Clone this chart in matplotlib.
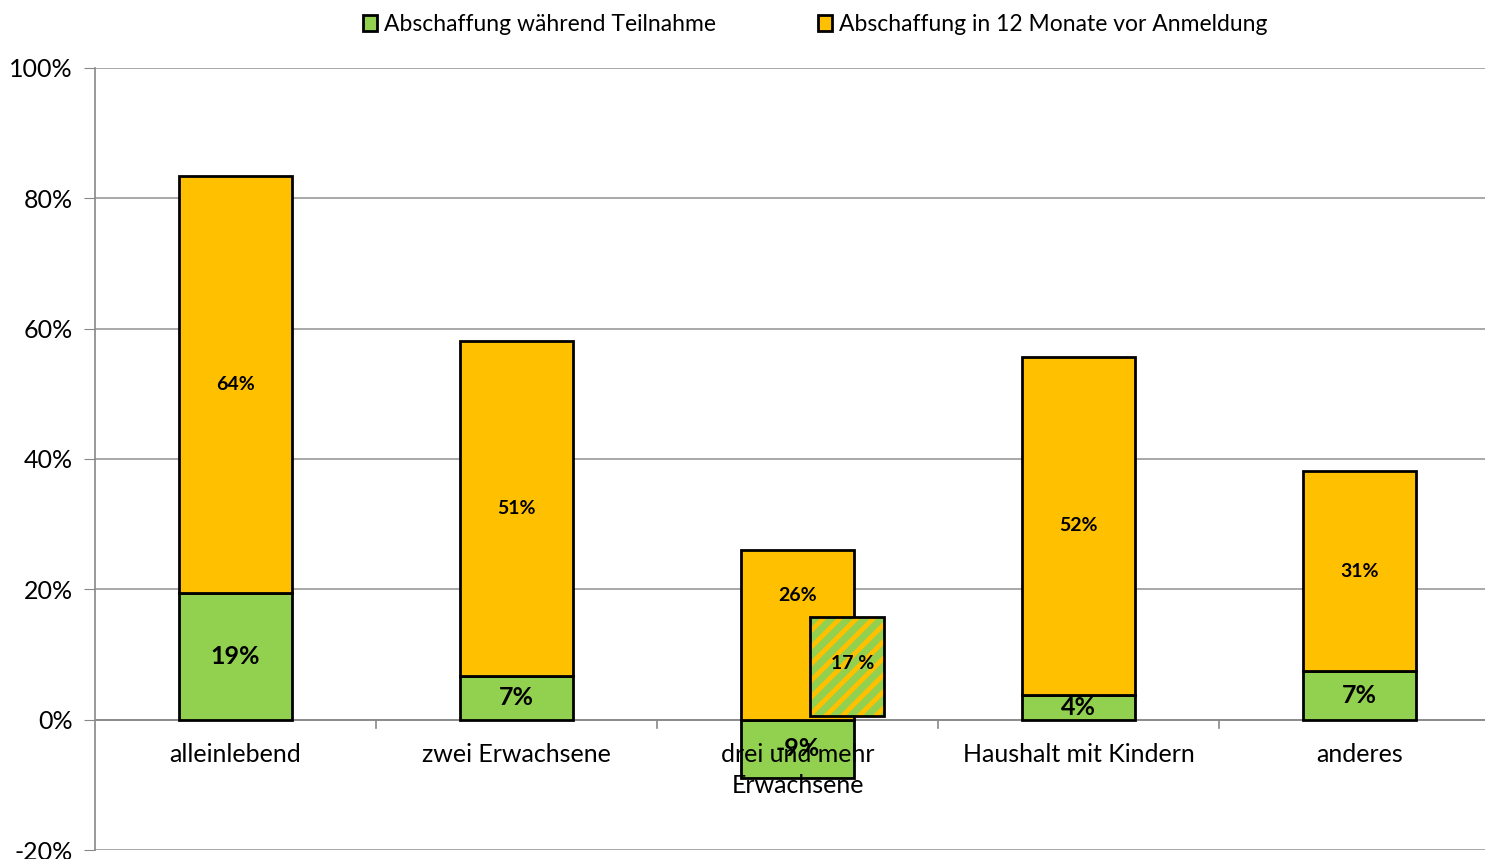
import matplotlib.pyplot as plt
from matplotlib.patches import Patch
from matplotlib.ticker import FuncFormatter

plt.rcParams['font.family'] = ['Lato', 'DejaVu Sans']
plt.rcParams['hatch.linewidth'] = 5

categories = ["alleinlebend", "zwei Erwachsene", "drei und mehr\nErwachsene",
              "Haushalt mit Kindern", "anderes"]
green_vals = [19.4, 6.7, -8.9, 3.8, 7.4]
orange_vals = [64.0, 51.4, 26.1, 51.9, 30.8]
green_labels = ["19%", "7%", "-9%", "4%", "7%"]
orange_labels = ["64%", "51%", "26%", "52%", "31%"]
# extra hatched box shown next to the third bar
hatch_cat = 2
hatch_bottom = 0.6
hatch_height = 15.2
hatch_label = "17 %"

GREEN = "#92D050"
ORANGE = "#FFC000"

fig = plt.figure(figsize=(14.85, 8.59), dpi=100)
ax = fig.add_axes([95 / 1485, 9 / 859, 1405 / 1485, 782 / 859])

x = list(range(len(categories)))
orange_bottom = [max(g, 0) for g in green_vals]
ax.bar(x, green_vals, width=0.4, color=GREEN, edgecolor="black", linewidth=2, zorder=3)
ax.bar(x, orange_vals, width=0.4, bottom=orange_bottom, color=ORANGE,
       edgecolor="black", linewidth=2, zorder=3)

hx = hatch_cat + 0.175
ax.bar([hx], [hatch_height], bottom=hatch_bottom, width=0.263, color=ORANGE,
       edgecolor=GREEN, hatch="//", linewidth=0, zorder=4)
ax.bar([hx], [hatch_height], bottom=hatch_bottom, width=0.263, fill=False,
       edgecolor="black", linewidth=2, zorder=5)
ax.text(hx + 0.02, hatch_bottom + hatch_height / 2 + 0.4, hatch_label, ha="center",
        va="center", fontsize=14, fontweight="bold", zorder=6)

for i in x:
    ax.text(i, green_vals[i] / 2, green_labels[i], ha="center", va="center",
            fontsize=18, fontweight="bold", zorder=6)
for i in x:
    yo = orange_bottom[i] + orange_vals[i] / 2
    if i == hatch_cat:
        yo = 19
    ax.text(i, yo, orange_labels[i], ha="center", va="center",
            fontsize=14, fontweight="bold", zorder=6)

for i, c in enumerate(categories):
    ax.text(i, -3.6, c, ha="center", va="top", fontsize=18, zorder=7, linespacing=1.4)

ax.set_xlim(-0.5, 4.5)
ax.set_ylim(-20, 100)
ax.set_yticks(range(-20, 101, 20))
ax.yaxis.set_major_formatter(FuncFormatter(lambda v, p: f"{v:.0f}%"))
ax.tick_params(axis="y", labelsize=18, length=8, color="#888888", pad=8)
ax.set_xticks([])
ax.grid(axis="y", color="#999999", linewidth=1.2, zorder=0)
for s in ["top", "right", "bottom"]:
    ax.spines[s].set_visible(False)
ax.spines["left"].set_color("#888888")
ax.spines["left"].set_linewidth(1.2)

ax.axhline(0, color="#888888", linewidth=1.2, zorder=2)
for b in [0.5, 1.5, 2.5, 3.5]:
    ax.plot([b, b], [0, -1.3], color="#888888", linewidth=1.2, zorder=2, clip_on=False)

handles = [Patch(facecolor=GREEN, edgecolor="black", linewidth=2),
           Patch(facecolor=ORANGE, edgecolor="black", linewidth=2)]
fig.legend(handles, ["Abschaffung während Teilnahme", "Abschaffung in 12 Monate vor Anmeldung"],
           loc="upper center", bbox_to_anchor=(0.549, 1.008), ncol=2, frameon=False,
           fontsize=16.5, handlelength=0.6, handleheight=0.7, handletextpad=0.3,
           columnspacing=4.45)

fig.savefig("out.png", dpi=100)
